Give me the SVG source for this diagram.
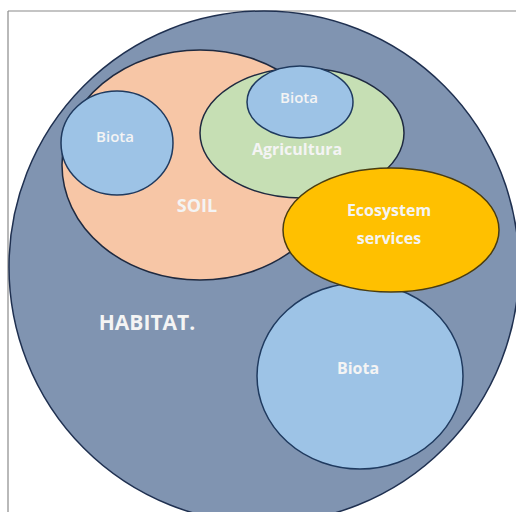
<svg xmlns="http://www.w3.org/2000/svg" width="516" height="512" viewBox="0 0 516 512">
<style>
.lbl{font-family:"Open Sans","Liberation Sans",sans-serif;fill:#f4f4f4;text-anchor:middle}
.b{font-weight:bold}
.sb{font-weight:600}
.bio{fill:#9dc3e6;stroke:#1f3a5f;stroke-width:1.5}
</style>
<rect width="516" height="512" fill="#ffffff"/>
<g id="frame" stroke="#8a8a8a" stroke-width="1.2" fill="none">
<line x1="8" y1="11" x2="516" y2="11"/>
<line x1="8" y1="11" x2="8" y2="512"/>
</g>
<g id="habitat">
<ellipse cx="264" cy="267" rx="255" ry="256" fill="#8094b1" stroke="#1f3050" stroke-width="1.5"/>
<text class="lbl b" x="147" y="330" font-size="21">HABITAT.</text>
</g>
<g id="soil">
<ellipse cx="200" cy="165" rx="138" ry="115" fill="#f7c6a6" stroke="#1f2a40" stroke-width="1.5"/>
<text class="lbl b" x="197" y="212" font-size="18">SOIL</text>
</g>
<g id="biota-soil">
<ellipse class="bio" cx="117" cy="143" rx="56" ry="52"/>
<text class="lbl sb" x="115" y="142" font-size="15">Biota</text>
</g>
<g id="agricultura">
<ellipse cx="302" cy="133" rx="102" ry="65" fill="#c6dfb4" stroke="#1f2a40" stroke-width="1.5"/>
<text class="lbl b" x="297" y="155" font-size="16">Agricultura</text>
</g>
<g id="biota-agri">
<ellipse class="bio" cx="300" cy="102" rx="53" ry="36"/>
<text class="lbl sb" x="299" y="103" font-size="15">Biota</text>
</g>
<g id="biota-habitat">
<ellipse class="bio" cx="360" cy="376" rx="103" ry="93"/>
<text class="lbl b" x="358" y="374" font-size="16">Biota</text>
</g>
<g id="ecosystem">
<ellipse cx="391" cy="230" rx="108" ry="62" fill="#ffc000" stroke="#4a3d10" stroke-width="1.5"/>
<text class="lbl b" x="389" y="216" font-size="16">Ecosystem</text>
<text class="lbl b" x="389" y="244" font-size="16">services</text>
</g>
<g id="connectors"/>
</svg>
